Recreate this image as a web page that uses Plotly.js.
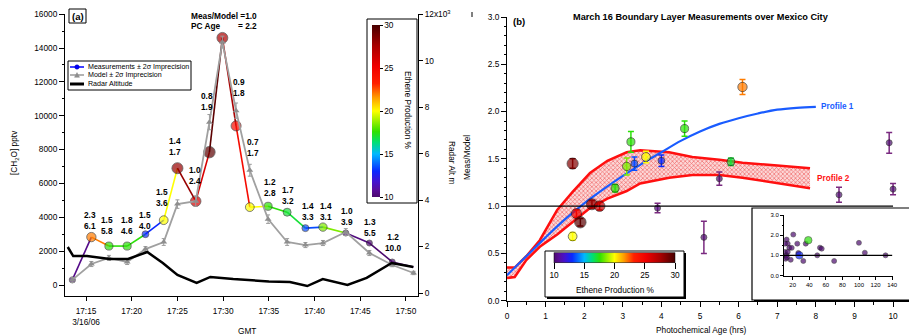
<!DOCTYPE html>
<html><head><meta charset="utf-8">
<script src="https://cdn.plot.ly/plotly-3.0.1.min.js"></script>
<style>body{margin:0;padding:0;background:#fff}#chart{width:909px;height:336px}</style>
</head><body><div id="chart"></div>
<script>
// ===== Panel (a) data =====
const measTimes = ['17:13:30','17:15:35','17:17:30','17:19:30','17:21:30','17:23:30','17:25:00','17:27:00','17:28:30','17:29:55','17:31:25','17:32:55','17:34:55','17:37:00','17:39:00','17:40:55','17:43:25','17:46:00','17:48:30','17:50:50'];
const measConc  = [300, 2830, 2300, 2300, 3000, 3830, 6900, 4950, 7850, 14600, 9400, 4600, 4650, 4300, 3360, 3420, 3070, 2480, 1360, 1060];
const modelConc = [300, 1240, 1600, 1360, 2120, 2540, 4780, 4950, 9620, 14350, 10300, 6780, 3890, 2540, 2360, 2480, 3130, 1890, 1180, 710];
const modelErr  = [150, 150, 150, 150, 150, 200, 250, 300, 450, 350, 450, 350, 250, 200, 150, 150, 200, 150, 100, 100];
const ethenePct = [10.5, 22, 17.5, 17.5, 13, 20, 28, 26, 29.5, 27.5, 24.5, 20, 17.5, 17, 13.5, 18.5, 10.3, 10, 10, 10];
const labelRatio = ['', '2.3','1.5','1.8','1.5','1.5','1.4','1.0','0.8','1.0','0.9','0.7','1.2','1.7','1.4','1.4','1.0','1.3','1.2',''];
const labelAge   = ['', '6.1','5.8','4.6','4.0','3.6','1.7','2.4','1.9','2.2','1.8','1.7','2.8','3.2','3.3','3.1','3.9','5.5','10.0',''];
const radarTimes = ['17:13:00','17:13:36','17:15:06','17:15:48','17:17:36','17:19:36','17:21:42','17:23:24','17:25:00','17:27:06','17:28:36','17:31:06','17:35:00','17:37:18','17:39:12','17:40:54','17:43:36','17:45:42','17:48:26','17:50:48'];
const radarAlt   = [1980, 1590, 1590, 1550, 1465, 1465, 1765, 1290, 775, 430, 690, 600, 500, 475, 300, 600, 345, 650, 1290, 1120];
const xTickTimes = ['17:15','17:20','17:25','17:30','17:35','17:40','17:45','17:50'];

// ===== Panel (b) data =====
const pcAge     = [3.21, 3.10, 3.30, 3.60, 4.00, 1.70, 2.80, 2.20, 2.40, 1.80, 1.90, 1.70, 3.90, 5.80, 4.60, 6.10, 9.90, 5.50, 5.10, 8.60, 10.0];
const measModel = [1.68, 1.42, 1.45, 1.52, 1.48, 1.45, 1.19, 1.02, 1.00, 0.92, 0.83, 0.68, 0.98, 1.47, 1.82, 2.26, 1.67, 1.29, 0.67, 1.12, 1.18];
const ratioErr  = [0.11, 0.09, 0.07, 0.06, 0.06, 0.05, 0.04, 0.04, 0.04, 0.04, 0.04, 0.04, 0.05, 0.04, 0.08, 0.08, 0.11, 0.07, 0.17, 0.08, 0.06];
const ratioEthene = [17.5, 18.5, 13.5, 20, 13, 28.5, 17.5, 28, 26.5, 25, 29.5, 20, 10.3, 17, 17.5, 22, 10, 10, 10, 10, 10];
const profile1Age   = [0, 0.5, 1, 1.5, 2, 2.5, 3, 3.5, 4, 4.5, 5, 5.5, 6, 6.5, 7, 7.5, 8];
const profile1Ratio = [0.27, 0.47, 0.67, 0.86, 1.03, 1.18, 1.32, 1.45, 1.57, 1.69, 1.79, 1.87, 1.93, 1.98, 2.02, 2.04, 2.05];
const profile2Age   = [0, 0.2, 0.5, 0.85, 1.3, 1.7, 2.15, 2.6, 3.1, 3.45, 4.2, 4.8, 5.5, 6.1, 7.0, 7.85];
const profile2Upper = [0.35, 0.35, 0.47, 0.64, 0.96, 1.15, 1.35, 1.48, 1.57, 1.59, 1.57, 1.52, 1.49, 1.46, 1.43, 1.40];
const profile2Lower = [0.24, 0.25, 0.43, 0.57, 0.70, 0.83, 0.98, 1.08, 1.16, 1.24, 1.30, 1.33, 1.33, 1.30, 1.24, 1.19];
// inset
const insetX = [20.7, 35.7, 25.5, 12.7, 14.0, 10.7, 15.9, 18.8, 10.7, 14.0, 26.8, 11.6, 17.6, 32.8, 49.6, 52.9, 55.0, 70.0, 99.9, 107.0, 132.0, 12.5, 13.0, 38.8, 28.0];
const insetY = [2.03, 1.58, 1.58, 1.78, 1.58, 1.58, 1.37, 1.37, 1.17, 1.17, 1.12, 0.83, 0.78, 0.72, 1.00, 1.38, 1.33, 0.72, 1.62, 1.13, 1.00, 1.00, 0.90, 1.75, 1.00];
const insetEthene = [10,10,10,10,10,10,10,10,10,10,10,10,10,10,10,10,10,10,10,10,10,10,10,17.5,13];

// ===== styling / helpers =====
const W = 909, H = 336;
const PX = x => x / W, PY = y => 1 - y / H;
const DAY = '2006-03-16 ';
const dt = t => DAY + (t.length === 5 ? t + ':00' : t);
const CMIN = 10, CMAX = 30;
const scale = [[0,'#4c0a6e'],[0.04,'#5a0c9a'],[0.09,'#4412d0'],[0.15,'#0a28ff'],[0.25,'#00b8ff'],[0.32,'#00e070'],[0.38,'#30e000'],[0.5,'#ffff00'],[0.58,'#ff9a00'],[0.66,'#ff2000'],[0.76,'#f00000'],[0.88,'#a80000'],[1,'#480000']];
function hexToRgb(h){return [parseInt(h.slice(1,3),16),parseInt(h.slice(3,5),16),parseInt(h.slice(5,7),16)];}
function colorFor(v){
  const t = Math.max(0, Math.min(1, (v - CMIN) / (CMAX - CMIN)));
  for (let i = 1; i < scale.length; i++) {
    if (t <= scale[i][0]) {
      const a = scale[i-1], b = scale[i], f = (t - a[0]) / (b[0] - a[0]);
      const ca = hexToRgb(a[1]), cb = hexToRgb(b[1]);
      return 'rgb(' + ca.map((c,k) => Math.round(c + (cb[k]-c)*f)).join(',') + ')';
    }
  }
  return scale[scale.length-1][1];
}
const sizeFor = e => 6 + (e - 10) * 0.28;
const FONT = 'Liberation Sans, Arial, Helvetica, sans-serif';

// label offsets (px) of the two-line labels relative to each measurement marker
const labelOffset = [null,[-1,-17],[-2,-21],[0,-21],[0,-14],[-2,-23],[-2,-22],[-1,-26],[-2,-51],null,[3,-38],[3,-60],[2,-19],[1,-17],[3,-17],[3,-16],[1,-17],[1,-16],[1,-19],null];

const traces = [];
traces.push({x: radarTimes.map(dt), y: radarAlt, yaxis:'y2', xaxis:'x', mode:'lines', line:{color:'#000', width:2.5}, hoverinfo:'skip'});
for (let i = 0; i < measTimes.length - 1; i++) {
  traces.push({x:[dt(measTimes[i]), dt(measTimes[i+1])], y:[measConc[i], measConc[i+1]], xaxis:'x', yaxis:'y', mode:'lines', line:{color:colorFor(ethenePct[i]), width:1.6}, hoverinfo:'skip'});
}
const nm = measTimes.length - 1;
traces.push({x: measTimes.slice(0,nm).map(dt), y: measConc.slice(0,nm), xaxis:'x', yaxis:'y', mode:'markers',
  marker:{color: ethenePct.slice(0,nm), cmin:CMIN, cmax:CMAX, colorscale:scale, size: ethenePct.slice(0,nm).map(sizeFor), line:{color:'#222', width:0.8},
    showscale:true,
    colorbar:{x:PX(372), xanchor:'left', xpad:0, y:PY(111), yanchor:'middle', ypad:0, len:172, lenmode:'pixels', thickness:8, thicknessmode:'pixels',
      outlinewidth:0, ticks:'outside', ticklen:3, tickcolor:'#000', tickvals:[10,15,20,25,30], tickfont:{size:8.3, family:FONT}}}});
traces.push({x: measTimes.map(dt), y: modelConc, xaxis:'x', yaxis:'y', mode:'lines+markers',
  line:{color:'#a0a0a0', width:1.8}, marker:{symbol:'triangle-up', size:6, color:'#8e8e8e'},
  error_y:{type:'data', array:modelErr, visible:true, color:'#9a9a9a', thickness:1, width:2}});

// ----- panel (b) -----
traces.push({x: profile2Age, y: profile2Lower, xaxis:'x2', yaxis:'y3', mode:'lines', line:{color:'#ff1010', width:2.5}, hoverinfo:'skip'});
traces.push({x: profile2Age, y: profile2Upper, xaxis:'x2', yaxis:'y3', mode:'lines', line:{color:'#ff1010', width:2.5}, fill:'tonexty',
  fillcolor:'rgba(255,150,150,0.5)', fillpattern:{shape:'x', fgcolor:'#f06a6a', bgcolor:'#fcd8d8', size:3, solidity:0.4}, hoverinfo:'skip'});
traces.push({x: profile1Age, y: profile1Ratio, xaxis:'x2', yaxis:'y3', mode:'lines', line:{color:'#1a5cff', width:2.2, shape:'spline'}, hoverinfo:'skip'});
for (let i = 0; i < pcAge.length; i++) {
  traces.push({x:[pcAge[i]], y:[measModel[i]], xaxis:'x2', yaxis:'y3', mode:'markers', marker:{size:1, opacity:0},
    error_y:{type:'data', array:[ratioErr[i]], visible:true, color: ratioEthene[i] <= 10.5 ? '#7a2a80' : colorFor(ratioEthene[i]), thickness:1.5, width:3}, hoverinfo:'skip'});
}
traces.push({x: pcAge, y: measModel, xaxis:'x2', yaxis:'y3', mode:'markers',
  marker:{color: ratioEthene, cmin:CMIN, cmax:CMAX, colorscale:scale, size: ratioEthene.map(sizeFor), line:{color:'#111', width:0.8},
    showscale:true,
    colorbar:{orientation:'h', x:PX(614.5), xanchor:'center', xpad:0, y:PY(267), yanchor:'middle', ypad:0, len:121, lenmode:'pixels', thickness:10, thicknessmode:'pixels',
      outlinewidth:0.5, outlinecolor:'#000', ticks:'outside', ticklen:6, tickcolor:'#000', tickvals:[10,15,20,25,30], tickfont:{size:8.3, family:FONT}}}});
traces.push({x: insetX, y: insetY, xaxis:'x3', yaxis:'y4', mode:'markers',
  marker:{color: insetEthene, cmin:CMIN, cmax:CMAX, colorscale:scale, size: insetEthene.map(e => e > 10 ? 7.5 : 5), line:{color:'#111', width:0.6}}});

// ----- shapes -----
const shapes = [];
const rect = (x0,y0,x1,y1,extra) => Object.assign({type:'rect', xref:'paper', yref:'paper', x0:PX(x0), x1:PX(x1), y0:PY(y1), y1:PY(y0), line:{color:'#000', width:1}, fillcolor:'rgba(0,0,0,0)', layer:'below'}, extra||{});
shapes.push(rect(69,9,86,23));
shapes.push(rect(68,61,191,90,{fillcolor:'#fff'}));
shapes.push(rect(367,19,417,203));
shapes.push(rect(547,253,686,299,{fillcolor:'#000', line:{width:0}}));
shapes.push(rect(545,251,684,297,{fillcolor:'#fff'}));
shapes.push(rect(754,210,914,302,{fillcolor:'#000', line:{width:0}}));
shapes.push(rect(752,208,912,300,{fillcolor:'#fff', line:{color:'#000', width:1.2}}));
const seg = (x0,y0,x1,y1,color,width) => ({type:'line', xref:'paper', yref:'paper', x0:PX(x0), x1:PX(x1), y0:PY(y0), y1:PY(y1), line:{color:color, width:width}});
shapes.push(seg(70,67,84,67,'#0000ff',1.5));
shapes.push({type:'circle', xref:'paper', yref:'paper', x0:PX(74.8), x1:PX(79.2), y0:PY(69.2), y1:PY(64.8), fillcolor:'#0000ff', line:{color:'#0000aa', width:0.5}});
shapes.push(seg(70,75,84,75,'#9a9a9a',1.5));
shapes.push({type:'path', xref:'paper', yref:'paper', path:`M ${PX(74.5)},${PY(77.3)} L ${PX(79.5)},${PY(77.3)} L ${PX(77)},${PY(72.6)} Z`, fillcolor:'#8e8e8e', line:{color:'#8e8e8e', width:0.5}});
shapes.push(seg(70,84,84,84,'#000',3));
shapes.push({type:'line', xref:'x2', yref:'y3', x0:0, x1:10, y0:1, y1:1, line:{color:'#000', width:1.2}});
shapes.push({type:'line', xref:'x3', yref:'y4', x0:9.5, x1:140, y0:1, y1:1, line:{color:'#000', width:1.2}});
shapes.push(seg(472,12,472,17,'#000',1));

// ----- annotations -----
const ann = [];
const txt = (x,y,text,extra) => ann.push(Object.assign({xref:'paper', yref:'paper', x:PX(x), y:PY(y), xanchor:'center', yanchor:'middle', text:text, showarrow:false, font:{size:8.3, family:FONT, color:'#000'}}, extra||{}));
txt(77.5,16,'<b>(a)</b>',{font:{size:9.5, family:FONT}});
txt(519,22,'<b>(b)</b>',{font:{size:9.5, family:FONT}});
txt(701,17,'<b>March 16 Boundary Layer Measurements over Mexico City</b>',{font:{size:9.2, family:FONT}});
txt(15,152,'[CH<sub>2</sub>O] pptv',{textangle:-90});
txt(247,331,'GMT');
txt(452,162,'Radar Alt m',{textangle:90});
txt(408,110,'Ethene Production %',{textangle:90});
txt(467,158,'Meas/Model',{textangle:-90});
txt(701,330,'Photochemical Age (hrs)');
txt(615,290,'Ethene Production %');
txt(86,67,'Measurements ± 2σ Imprecision',{xanchor:'left', font:{size:7.1, family:FONT}});
txt(86,75,'Model ± 2σ Imprecision',{xanchor:'left', font:{size:7.1, family:FONT}});
txt(86,84,'Radar Altitude',{xanchor:'left', font:{size:7.1, family:FONT}});
for (let i = 0; i < measTimes.length; i++) {
  if (!labelOffset[i]) continue;
  ann.push({xref:'x', yref:'y', x:dt(measTimes[i]), y:measConc[i], showarrow:false, xanchor:'center', yanchor:'middle', xshift:labelOffset[i][0], yshift:-labelOffset[i][1],
    text:'<b>' + labelRatio[i] + '<br>' + labelAge[i] + '</b>', align:'center', font:{size:8.3, family:FONT, color:'#000'}});
}
const pk = 9;
ann.push({xref:'x', yref:'y', x:dt(measTimes[pk]), y:measConc[pk], showarrow:false, xanchor:'left', yanchor:'middle', xshift:-33, yshift:22, text:'<b>Meas/Model =' + labelRatio[pk] + '</b>', font:{size:8.3, family:FONT}});
ann.push({xref:'x', yref:'y', x:dt(measTimes[pk]), y:measConc[pk], showarrow:false, xanchor:'left', yanchor:'middle', xshift:-33, yshift:12, text:'<b>PC Age</b>', font:{size:8.3, family:FONT}});
ann.push({xref:'x', yref:'y', x:dt(measTimes[pk]), y:measConc[pk], showarrow:false, xanchor:'right', yanchor:'middle', xshift:37, yshift:12, text:'<b>= ' + labelAge[pk] + '</b>', font:{size:8.3, family:FONT}});
ann.push({xref:'x2', yref:'y3', x:profile1Age[profile1Age.length-1], y:profile1Ratio[profile1Ratio.length-1], showarrow:false, xanchor:'left', yanchor:'middle', xshift:3, text:'<b>Profile 1</b>', font:{size:8.2, family:FONT, color:'#1a5cff'}});
ann.push({xref:'x2', yref:'y3', x:profile2Age[profile2Age.length-1], y:(profile2Upper[profile2Upper.length-1]+profile2Lower[profile2Lower.length-1])/2, showarrow:false, xanchor:'left', yanchor:'middle', xshift:5, text:'<b>Profile 2</b>', font:{size:8.2, family:FONT, color:'#ff1010'}});

const axBase = {showline:true, linecolor:'#000', linewidth:1, showgrid:false, zeroline:false, ticks:'outside', tickcolor:'#000', tickfont:{size:8.3, family:FONT, color:'#000'}};
const layout = {
  width:W, height:H, margin:{l:0,r:0,t:0,b:0}, paper_bgcolor:'#fff', plot_bgcolor:'rgba(0,0,0,0)', showlegend:false,
  font:{family:FONT, size:8.3, color:'#000'},
  xaxis: Object.assign({}, axBase, {domain:[PX(65), PX(418)], type:'date', anchor:'y', range:[DAY+'17:12:42', DAY+'17:51:19'],
    tickmode:'array', tickvals: xTickTimes.map(dt), ticktext: xTickTimes.map((t,i) => i === 0 ? t + '<br>3/16/06' : t), ticklen:4, ticklabelstandoff:3}),
  yaxis: Object.assign({}, axBase, {domain:[PY(296), PY(14)], anchor:'x', range:[-650, 16010], tick0:0, dtick:2000, ticklen:5, tickformat:'d',
    minor:{dtick:1000, ticklen:2.5, ticks:'outside', tickcolor:'#000'}}),
  yaxis2: Object.assign({}, axBase, {overlaying:'y', side:'right', anchor:'x', range:[-129, 12010], tickmode:'array',
    tickvals:[0,2000,4000,6000,8000,10000,12000], ticktext:['0','2','4','6','8','10','12x10<sup>3</sup>'], ticklen:4}),
  xaxis2: Object.assign({}, axBase, {domain:[PX(507), PX(900)], anchor:'y3', range:[0, 10.18], tick0:0, dtick:1, ticklen:5, ticklabelstandoff:2,
    minor:{dtick:0.5, ticklen:3, ticks:'outside', tickcolor:'#000'}}),
  yaxis3: Object.assign({}, axBase, {domain:[PY(300.7), PY(17)], anchor:'x2', range:[0, 3.0001], tick0:0, dtick:0.5, tickformat:'.1f', ticklen:5,
    minor:{dtick:0.1, ticklen:2.5, ticks:'outside', tickcolor:'#000'}}),
  xaxis3: Object.assign({}, axBase, {domain:[PX(784), PX(893)], anchor:'y4', range:[9.5, 141], tickmode:'array', tickvals:[20,40,60,80,100,120,140], ticklen:3, tickfont:{size:6, family:FONT}}),
  yaxis4: Object.assign({}, axBase, {domain:[PY(275.5), PY(215)], anchor:'x3', range:[0, 3.0001], tick0:0, dtick:1, tickformat:'.1f', ticklen:3, tickfont:{size:6, family:FONT},
    minor:{dtick:0.5, ticklen:1.5, ticks:'outside', tickcolor:'#000'}}),
  shapes: shapes, annotations: ann
};
Plotly.newPlot('chart', traces, layout, {staticPlot:true, displayModeBar:false});
</script></body></html>
